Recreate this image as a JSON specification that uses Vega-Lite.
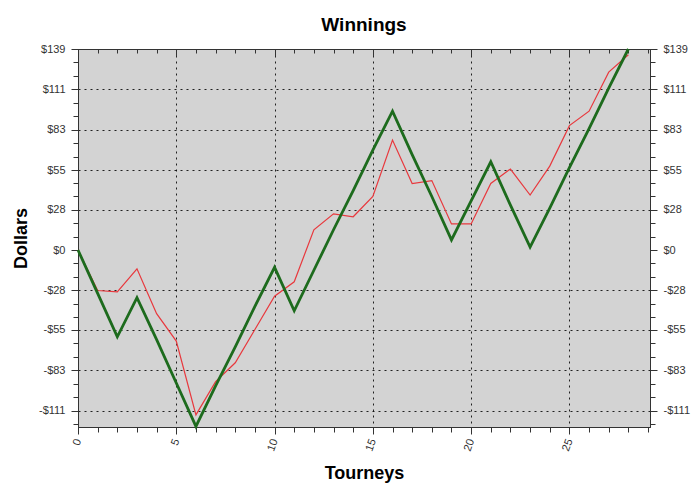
{
  "$schema": "https://vega.github.io/schema/vega-lite/v6.json",
  "width": 572,
  "height": 378,
  "autosize": {"type": "none"},
  "padding": {"left": 78, "top": 49, "right": 50, "bottom": 67},
  "background": "white",
  "config": {
    "view": {"fill": "#d3d3d3", "stroke": "#333333", "strokeWidth": 1},
    "font": "Liberation Sans",
    "axis": {"labelFont": "Liberation Sans", "labelFontSize": 11, "labelColor": "#333333", "domainColor": "#333333", "tickColor": "#333333", "titleFont": "Liberation Sans", "titleFontSize": 18, "titleFontWeight": "bold", "titleColor": "#000000"}
  },
  "title": {"text": "Winnings", "fontSize": 19, "fontWeight": "bold", "font": "Liberation Sans", "color": "#000000", "offset": 8},
  "data": {"values": [
    {"tourney": 0, "series": "green", "dollars": 0},
    {"tourney": 1, "series": "green", "dollars": -30},
    {"tourney": 2, "series": "green", "dollars": -60},
    {"tourney": 3, "series": "green", "dollars": -33},
    {"tourney": 4, "series": "green", "dollars": -62},
    {"tourney": 5, "series": "green", "dollars": -92},
    {"tourney": 6, "series": "green", "dollars": -122},
    {"tourney": 7, "series": "green", "dollars": -94},
    {"tourney": 8, "series": "green", "dollars": -67},
    {"tourney": 9, "series": "green", "dollars": -39},
    {"tourney": 10, "series": "green", "dollars": -12},
    {"tourney": 11, "series": "green", "dollars": -42},
    {"tourney": 12, "series": "green", "dollars": -14},
    {"tourney": 13, "series": "green", "dollars": 14},
    {"tourney": 14, "series": "green", "dollars": 41},
    {"tourney": 15, "series": "green", "dollars": 69},
    {"tourney": 16, "series": "green", "dollars": 96},
    {"tourney": 17, "series": "green", "dollars": 66},
    {"tourney": 18, "series": "green", "dollars": 37},
    {"tourney": 19, "series": "green", "dollars": 7},
    {"tourney": 20, "series": "green", "dollars": 34},
    {"tourney": 21, "series": "green", "dollars": 61},
    {"tourney": 22, "series": "green", "dollars": 31},
    {"tourney": 23, "series": "green", "dollars": 2},
    {"tourney": 24, "series": "green", "dollars": 29},
    {"tourney": 25, "series": "green", "dollars": 57},
    {"tourney": 26, "series": "green", "dollars": 84},
    {"tourney": 27, "series": "green", "dollars": 112},
    {"tourney": 28, "series": "green", "dollars": 139},
    {"tourney": 0, "series": "red", "dollars": 0},
    {"tourney": 1, "series": "red", "dollars": -28},
    {"tourney": 2, "series": "red", "dollars": -29},
    {"tourney": 3, "series": "red", "dollars": -13},
    {"tourney": 4, "series": "red", "dollars": -44},
    {"tourney": 5, "series": "red", "dollars": -63},
    {"tourney": 6, "series": "red", "dollars": -114},
    {"tourney": 7, "series": "red", "dollars": -91},
    {"tourney": 8, "series": "red", "dollars": -78},
    {"tourney": 9, "series": "red", "dollars": -55},
    {"tourney": 10, "series": "red", "dollars": -32},
    {"tourney": 11, "series": "red", "dollars": -22},
    {"tourney": 12, "series": "red", "dollars": 14},
    {"tourney": 13, "series": "red", "dollars": 25},
    {"tourney": 14, "series": "red", "dollars": 23},
    {"tourney": 15, "series": "red", "dollars": 37},
    {"tourney": 16, "series": "red", "dollars": 76},
    {"tourney": 17, "series": "red", "dollars": 46},
    {"tourney": 18, "series": "red", "dollars": 48},
    {"tourney": 19, "series": "red", "dollars": 18},
    {"tourney": 20, "series": "red", "dollars": 18},
    {"tourney": 21, "series": "red", "dollars": 46},
    {"tourney": 22, "series": "red", "dollars": 56},
    {"tourney": 23, "series": "red", "dollars": 38},
    {"tourney": 24, "series": "red", "dollars": 58},
    {"tourney": 25, "series": "red", "dollars": 86},
    {"tourney": 26, "series": "red", "dollars": 96},
    {"tourney": 27, "series": "red", "dollars": 123},
    {"tourney": 28, "series": "red", "dollars": 135}
  ]},
  "resolve": {"axis": {"x": "independent", "y": "independent"}},
  "layer": [
    {
      "mark": {"type": "rule", "color": "#555555", "strokeWidth": 1.5},
      "encoding": {
        "y": {"datum": 0, "type": "quantitative", "scale": {"domain": [-122.4, 139], "nice": false, "zero": false},
          "axis": {
            "orient": "left", "title": "Dollars", "titlePadding": 8,
            "values": [-120.4, -111, -101.7, -92.4, -83, -73.9, -64.6, -55, -46.3, -37.1, -28, -18.5, -9.3, 0, 9.3, 18.5, 28, 37.1, 46.3, 55, 64.6, 73.9, 83, 92.4, 101.7, 111, 120.4, 129.7, 139],
            "labelExpr": "datum.value % 1 != 0 ? '' : (datum.value < 0 ? '-$' + abs(datum.value) : '$' + datum.value)",
            "tickSize": {"condition": {"test": "datum.value % 1 == 0", "value": 7}, "value": 5},
            "labelPadding": 6,
            "grid": true, "gridColor": "#000000", "gridDash": [2, 4], "gridWidth": 1,
            "gridOpacity": {"condition": {"test": "datum.value % 1 == 0 && datum.value != 0", "value": 0.85}, "value": 0}
          }
        },
        "x": {"datum": 0, "type": "quantitative", "scale": {"domain": [0, 29.1], "nice": false, "zero": false},
          "axis": {
            "orient": "bottom", "title": "Tourneys", "titlePadding": 12,
            "values": [0,1,2,3,4,5,6,7,8,9,10,11,12,13,14,15,16,17,18,19,20,21,22,23,24,25,26,27,28,29],
            "labelExpr": "datum.value % 5 == 0 ? datum.label : ''",
            "labelAngle": -70, "labelAlign": "right", "labelBaseline": "middle", "labelPadding": 5,
            "tickSize": {"condition": {"test": "datum.value % 5 == 0", "value": 7}, "value": 5},
            "grid": true, "gridColor": "#000000", "gridDash": [2, 4], "gridWidth": 1,
            "gridOpacity": {"condition": {"test": "datum.value % 5 == 0 && datum.value != 0", "value": 0.85}, "value": 0}
          }
        }
      }
    },
    {
      "transform": [{"filter": "datum.series == 'red'"}],
      "mark": {"type": "line", "color": "#e8383d", "strokeWidth": 1.2},
      "encoding": {
        "x": {"field": "tourney", "type": "quantitative",
          "axis": {"orient": "top", "title": null, "labels": false, "domain": true,
            "values": [0,1,2,3,4,5,6,7,8,9,10,11,12,13,14,15,16,17,18,19,20,21,22,23,24,25,26,27,28,29],
            "tickSize": {"condition": {"test": "datum.value % 5 == 0", "value": -7}, "value": -4}, "grid": false}},
        "y": {"field": "dollars", "type": "quantitative",
          "axis": {
            "orient": "right", "title": null,
            "values": [-120.4, -111, -101.7, -92.4, -83, -73.9, -64.6, -55, -46.3, -37.1, -28, -18.5, -9.3, 0, 9.3, 18.5, 28, 37.1, 46.3, 55, 64.6, 73.9, 83, 92.4, 101.7, 111, 120.4, 129.7, 139],
            "labelExpr": "datum.value % 1 != 0 ? '' : (datum.value < 0 ? '-$' + abs(datum.value) : '$' + datum.value)",
            "tickSize": {"condition": {"test": "datum.value % 1 == 0", "value": 7}, "value": 5},
            "labelPadding": 6, "grid": false
          }
        }
      }
    },
    {
      "transform": [{"filter": "datum.series == 'green'"}],
      "mark": {"type": "line", "color": "#1d6b1d", "strokeWidth": 2.8},
      "encoding": {
        "x": {"field": "tourney", "type": "quantitative", "axis": null},
        "y": {"field": "dollars", "type": "quantitative", "axis": null}
      }
    }
  ]
}
